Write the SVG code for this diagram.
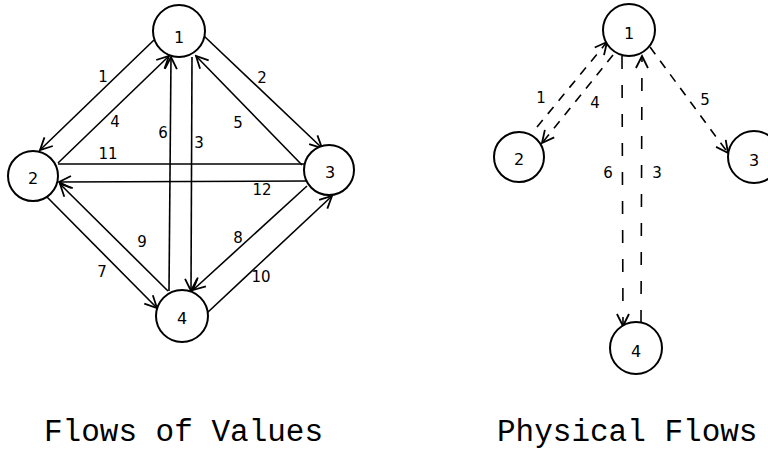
<svg xmlns="http://www.w3.org/2000/svg" width="768" height="461" viewBox="0 0 768 461">
<style>
.n{fill:#fff;stroke:#000;stroke-width:2}
.t{font-family:"DejaVu Sans",sans-serif;font-size:16px;fill:#000;text-anchor:middle;dominant-baseline:central}
.l{font-family:"DejaVu Sans",sans-serif;font-size:15px;fill:#000;text-anchor:middle;dominant-baseline:central}
.e{stroke:#000;stroke-width:1.6;fill:none}
.d{stroke:#000;stroke-width:1.6;fill:none;stroke-dasharray:9 8}
.v{stroke:#000;stroke-width:1.6;fill:none;stroke-dasharray:13 16}
.a{marker-end:url(#ah)}
.cap{font-family:"Liberation Mono",monospace;font-size:31px;fill:#000}
</style>
<defs>
<marker id="ah" markerUnits="userSpaceOnUse" markerWidth="16" markerHeight="16" viewBox="0 0 16 16" refX="14" refY="8" orient="auto">
<path d="M2,2 L14,8 L2,14" fill="none" stroke="#000" stroke-width="1.8"/>
</marker>
</defs>
<g id="connectors">
<line class="e a" x1="154" y1="40" x2="40" y2="150"/>
<line class="e a" x1="58" y1="163" x2="169" y2="56"/>
<line class="e a" x1="169" y1="291" x2="171" y2="57"/>
<line class="e a" x1="192" y1="57" x2="191" y2="291"/>
<line class="e a" x1="204" y1="36" x2="322" y2="148"/>
<line class="e a" x1="302" y1="165" x2="196" y2="56"/>
<line class="e" x1="58" y1="164" x2="304" y2="164"/>
<line class="e a" x1="307" y1="181" x2="59" y2="182"/>
<line class="e a" x1="47" y1="197" x2="157" y2="308"/>
<line class="e a" x1="168" y1="291" x2="60" y2="184"/>
<line class="e a" x1="307" y1="186" x2="193" y2="290"/>
<line class="e a" x1="207" y1="313" x2="332" y2="196"/>
<line class="d a" x1="537" y1="127" x2="607" y2="42"/>
<line class="d a" x1="613" y1="55" x2="542" y2="143"/>
<line class="v a" x1="622" y1="56" x2="623" y2="326"/>
<line class="v a" x1="641" y1="323" x2="642" y2="56"/>
<line class="d a" x1="650" y1="47" x2="728" y2="153"/>
<text class="l" x="103" y="77">1</text>
<text class="l" x="115" y="122">4</text>
<text class="l" x="163" y="133">6</text>
<text class="l" x="199" y="143">3</text>
<text class="l" x="262" y="78">2</text>
<text class="l" x="238" y="123">5</text>
<text class="l" x="108" y="154">11</text>
<text class="l" x="262" y="190">12</text>
<text class="l" x="102" y="272">7</text>
<text class="l" x="142" y="242">9</text>
<text class="l" x="238" y="238">8</text>
<text class="l" x="261" y="277">10</text>
<text class="l" x="541" y="98">1</text>
<text class="l" x="595" y="103">4</text>
<text class="l" x="608" y="173">6</text>
<text class="l" x="657" y="173">3</text>
<text class="l" x="705" y="100">5</text>
</g>
<g id="n1"><circle class="n" cx="179" cy="31" r="26"/><text class="t" x="179" y="37">1</text></g>
<g id="n2"><circle class="n" cx="33" cy="176" r="25"/><text class="t" x="33" y="178">2</text></g>
<g id="n3"><circle class="n" cx="329" cy="170" r="25"/><text class="t" x="330" y="172">3</text></g>
<g id="n4"><circle class="n" cx="182" cy="316" r="26"/><text class="t" x="182" y="318">4</text></g>
<g id="p1"><circle class="n" cx="629" cy="30" r="26"/><text class="t" x="629" y="33">1</text></g>
<g id="p2"><circle class="n" cx="519" cy="157" r="25"/><text class="t" x="519" y="159">2</text></g>
<g id="p3"><circle class="n" cx="754" cy="157" r="26"/><text class="t" x="754" y="160">3</text></g>
<g id="p4"><circle class="n" cx="636" cy="348" r="26"/><text class="t" x="636" y="351">4</text></g>
<g id="captions">
<text class="cap" x="44" y="441">Flows of Values</text>
<text class="cap" x="497" y="441">Physical Flows</text>
</g>
</svg>
